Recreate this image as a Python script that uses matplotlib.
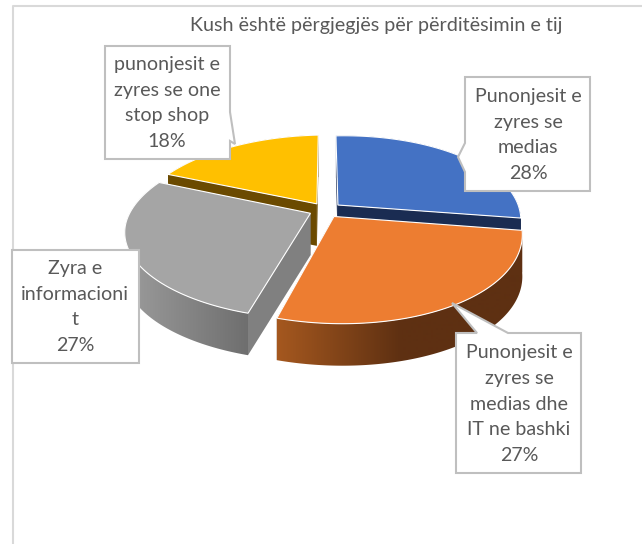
#!/usr/bin/env python3
import numpy as np
import matplotlib
matplotlib.use("Agg")
import matplotlib.pyplot as plt
from matplotlib.patches import Polygon

TITLE = "Kush është përgjegjës për përditësimin e tij"
NAMES = ["Punonjesit e\nzyres se\nmedias",
         "Punonjesit e\nzyres se\nmedias dhe\nIT ne bashki",
         "Zyra e\ninformacioni\nt",
         "punonjesit e\nzyres se one\nstop shop"]
VALUES = [28, 27, 27, 18]
TOP_COLORS = ["#4472C4", "#ED7D31", "#A5A5A5", "#FFC000"]
SIDE_LIGHT = ["#1A2C52", "#A5581F", "#9C9C9C", "#6B4A00"]
SIDE_DARK = ["#1A2C52", "#5E3012", "#6E6E6E", "#6B4A00"]
FACE_COLORS = ["#1A2C52", "#5E3012", "#808080", "#6B4A00"]

# pie geometry, in pixels
CX, CY = 325.5, 210
RX, RY = 181, 84
PERSP = 0.19
TILT = 3
SKEW = 10
EXPLODE = 0.09
DEPTH = 42
EDGE = "#BFBFBF"
TEXT = "#595959"


def project(x, y):
    s = 1 / (1 - PERSP * y)
    return (CX + RX * x * s + SKEW * np.clip(y, 0, None) ** 2,
            CY + RY * y * s - TILT * x)


def slice_points(a0, a1, off_x, off_y):
    t = np.radians(np.linspace(a0, a1, 200))
    return project(np.sin(t) + off_x, -np.cos(t) + off_y)


def gradient_poly(ax, verts, c0, c1, x0, x1, zorder):
    patch = Polygon(verts, closed=True, fc="none", ec="none", transform=ax.transData)
    ax.add_patch(patch)
    cmap = matplotlib.colors.LinearSegmentedColormap.from_list("g", [c0, c1])
    xs = np.linspace(0, 642, 643)
    ramp = np.clip((xs - x0) / (x1 - x0), 0, 1).reshape(1, -1)
    im = ax.imshow(ramp, cmap=cmap, aspect="auto", extent=(0, 642, 544, 0), zorder=zorder)
    im.set_clip_path(patch)


def callout(ax, points, xc, yc, label):
    ax.add_patch(Polygon(points, closed=True, fc="white", ec=EDGE, lw=1.5, zorder=20,
                         joinstyle="miter"))
    ax.text(xc, yc, label, ha="center", va="center", fontsize=14.1, color=TEXT,
            linespacing=1.62, zorder=21)


plt.rcParams["font.family"] = ["Lato", "DejaVu Sans"]
fig = plt.figure(figsize=(6.42, 5.44), dpi=100)
ax = fig.add_axes([0, 0, 1, 1])
ax.axis("off")

# chart frame, open on the right and at the bottom
ax.plot([12.5, 12.5, 642], [544, 5.5, 5.5], color="#D9D9D9", lw=1.5, zorder=1)
ax.text(376.5, 26, TITLE, ha="center", va="center", fontsize=14.2, color=TEXT)

fracs = np.array(VALUES) / sum(VALUES) * 360
starts = np.concatenate([[0], np.cumsum(fracs)[:-1]])
z = 5
# back slices first
for i in [0, 3, 2, 1]:
    a0, a1 = starts[i], starts[i] + fracs[i]
    mid = np.radians((a0 + a1) / 2)
    ox, oy = EXPLODE * np.sin(mid), -EXPLODE * np.cos(mid)
    xs, ys = slice_points(a0, a1, ox, oy)
    ax0, ay0 = project(ox, oy)

    # cut faces
    for xe, ye in [(xs[0], ys[0]), (xs[-1], ys[-1])]:
        face = [(ax0, ay0), (xe, ye), (xe, ye + DEPTH), (ax0, ay0 + DEPTH)]
        ax.add_patch(Polygon(face, closed=True, fc=FACE_COLORS[i], ec="none", zorder=z))
    # outer wall
    wall = list(zip(xs, ys)) + list(zip(xs[::-1], ys[::-1] + DEPTH))
    gradient_poly(ax, wall, SIDE_LIGHT[i], SIDE_DARK[i], xs.min(), xs.min() + 125, z + 1)
    # top
    top = [(ax0, ay0)] + list(zip(xs, ys))
    ax.add_patch(Polygon(top, closed=True, fc=TOP_COLORS[i], ec="white", lw=0.8,
                         zorder=z + 2))
    z += 3

# data labels, with their tails
callout(ax, [(465, 77), (590, 77), (590, 191), (465, 191), (465, 172), (458, 157), (465, 143)],
        528, 135, f"{NAMES[0]}\n{VALUES[0]}%")
callout(ax, [(456, 333), (477, 333), (452, 303), (508, 333), (581, 333), (581, 473), (456, 473)],
        519, 404, f"{NAMES[1]}\n{VALUES[1]}%")
callout(ax, [(12, 250), (139, 250), (139, 363), (12, 363)],
        75, 307, f"{NAMES[2]}\n{VALUES[2]}%")
callout(ax, [(105, 46), (230, 46), (230, 112), (235, 144), (230, 141), (230, 159), (105, 159)],
        167, 103, f"{NAMES[3]}\n{VALUES[3]}%")

ax.set_xlim(0, 642)
ax.set_ylim(544, 0)
fig.savefig("out.png", dpi=100)
